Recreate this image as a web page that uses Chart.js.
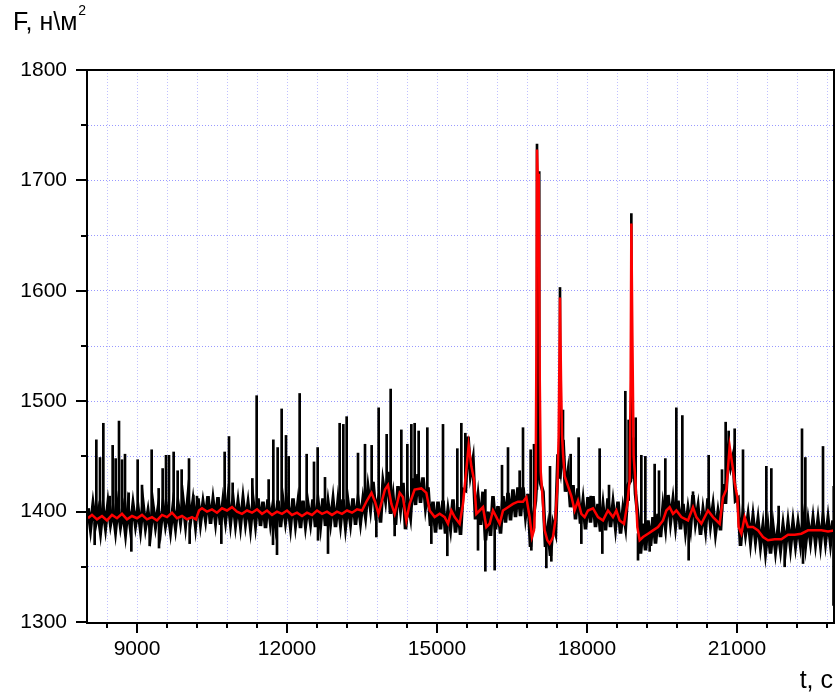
<!DOCTYPE html>
<html>
<head>
<meta charset="utf-8">
<script src="https://cdn.jsdelivr.net/npm/chart.js@4.4.1/dist/chart.umd.min.js"></script>
<style>
  html, body { margin: 0; padding: 0; background: #fff; }
</style>
</head>
<body>
<canvas id="chart" width="836" height="694"></canvas>
<script>
// axis titles and tick labels
const yTitle = 'F, н\\м';
const yTitleSup = '2';
const xTitle = 't, с';
const xTickLabels = [9000, 12000, 15000, 18000, 21000];
const yTickLabels = [1300, 1400, 1500, 1600, 1700, 1800];

// raw signal, sampled every 50 s from 8020 s
const rawStart = 8020;
const rawStep = 50;
const rawF = [
  1403, 1385, 1406, 1388, 1400, 1382, 1404, 1386, 1407, 1389,
  1402, 1383, 1405, 1387, 1401, 1381, 1404, 1385, 1406, 1388,
  1403, 1384, 1407, 1386, 1400, 1382, 1405, 1387, 1402, 1384,
  1406, 1388, 1401, 1383, 1404, 1386, 1407, 1391, 1410, 1389,
  1413, 1392, 1409, 1388, 1412, 1390, 1408, 1393, 1414, 1389,
  1410, 1391, 1413, 1388, 1409, 1392, 1412, 1390, 1411, 1389,
  // 11020
  1408, 1388, 1411, 1390, 1407, 1386, 1410, 1389, 1412, 1387,
  1409, 1385, 1411, 1390, 1406, 1388, 1410, 1386, 1409, 1391,
  1407, 1387, 1412, 1389, 1408, 1385, 1410, 1388, 1406, 1390,
  1411, 1386, 1409, 1388, 1412, 1387, 1408, 1390, 1410, 1386,
  1409, 1389, 1411, 1387, 1408, 1390, 1412, 1388, 1410, 1391,
  1411, 1396, 1421, 1403, 1427, 1401, 1410, 1390, 1426, 1411,
  // 14020
  1436, 1398, 1414, 1388, 1423, 1403, 1426, 1384, 1410, 1396,
  1430, 1406, 1434, 1408, 1431, 1405, 1422, 1387, 1409, 1381,
  1409, 1384, 1410, 1380, 1401, 1385, 1411, 1381, 1404, 1379,
  1420, 1419, 1468, 1434, 1447, 1393, 1413, 1388, 1418, 1374,
  1400, 1378, 1414, 1384, 1405, 1380, 1414, 1390, 1417, 1392,
  1420, 1395, 1422, 1396, 1422, 1397, 1416, 1368, 1393, 1410,
  // 17020
  1452, 1426, 1418, 1368, 1385, 1360, 1389, 1381, 1452, 1438,
  1465, 1418, 1435, 1404, 1424, 1393, 1421, 1389, 1409, 1384,
  1413, 1390, 1414, 1386, 1407, 1382, 1405, 1383, 1412, 1386,
  1407, 1386, 1409, 1380, 1402, 1387, 1424, 1428, 1467, 1416,
  1395, 1362, 1389, 1365, 1392, 1369, 1395, 1371, 1398, 1377,
  1404, 1386, 1415, 1391, 1410, 1388, 1410, 1384, 1407, 1383,
  // 20020
  1402, 1386, 1415, 1390, 1404, 1379, 1401, 1384, 1412, 1388,
  1405, 1381, 1399, 1383, 1425, 1407, 1452, 1440, 1450, 1410,
  1412, 1369, 1398, 1380, 1396, 1373, 1395, 1374, 1392, 1369,
  1387, 1364, 1385, 1362, 1386, 1365, 1384, 1366, 1387, 1367,
  1389, 1368, 1390, 1370, 1389, 1371, 1392, 1370, 1391, 1373,
  1393, 1372, 1392, 1371, 1394, 1373, 1393, 1372, 1392
];

// single-sample spikes of the raw signal: time, foot, tip
const spikeT = [
  8187, 8260, 8327, 8453, 8513, 8573, 8640, 8700, 8760, 8833, 9013, 9100, 9293, 9433, 9513, 9580, 9640, 9733, 9813, 9893,
  10040, 10127, 10200, 10753, 10840, 10913, 8153, 8887, 9253, 9440, 10053, 10687,
  11307, 11393, 11633, 11727, 11813, 11893, 11980, 12033, 12253, 12393, 12540, 12613, 12760, 13053, 13127, 13193, 13420, 13560,
  13693, 13833, 13993, 11720, 11800, 12820, 12620, 13787,
  14073, 14287, 14407, 14487, 14553, 14633, 14807, 15120, 15407, 15487, 15567, 15967, 16300, 16420, 16653, 16720, 16873, 16940,
  14153, 14887, 15207, 15967, 16153, 15820, 16887,
  17000, 17045, 17460, 18887,
  17260, 17520, 17673, 17833, 18073, 18253, 18440, 18767, 18833, 18973, 19087, 19167, 19353, 19440, 19567, 19787, 19907,
  17187, 17287, 17887, 18307, 19020, 19253,
  20120, 20433, 20700, 20773, 20833, 20953, 21120, 21587, 21687, 21833, 22300, 22367, 22720, 22935,
  20033, 21953, 22320, 22930
];
const spikeFrom = [
  1395, 1395, 1395, 1395, 1395, 1395, 1395, 1395, 1395, 1395, 1395, 1395, 1395, 1395, 1395, 1395, 1395, 1395, 1395, 1395,
  1395, 1395, 1395, 1401, 1401, 1401, 1390, 1390, 1390, 1390, 1390, 1395,
  1399, 1399, 1399, 1399, 1399, 1399, 1399, 1399, 1399, 1399, 1399, 1399, 1399, 1399, 1399, 1399, 1399, 1401,
  1415, 1400, 1420, 1395, 1395, 1395, 1395, 1400,
  1410, 1415, 1395, 1405, 1420, 1420, 1417, 1396, 1392, 1395, 1430, 1390, 1398, 1404, 1409, 1409, 1385, 1385,
  1398, 1398, 1390, 1387, 1395, 1398, 1380,
  1420, 1450, 1430, 1430,
  1372, 1450, 1414, 1408, 1402, 1395, 1400, 1395, 1410, 1425, 1376, 1378, 1383, 1387, 1395, 1400, 1396,
  1378, 1372, 1398, 1392, 1380, 1380,
  1404, 1401, 1400, 1419, 1440, 1430, 1390, 1375, 1375, 1376, 1381, 1381, 1383, 1383,
  1392, 1377, 1380, 1383
];
const spikeTo = [
  1465, 1449, 1480, 1414, 1460, 1448, 1482, 1447, 1452, 1417, 1447, 1424, 1456, 1421, 1439, 1451, 1451, 1454, 1437, 1438,
  1448, 1415, 1414, 1454, 1468, 1426, 1370, 1364, 1369, 1367, 1371, 1371,
  1430, 1505, 1429, 1465, 1458, 1493, 1469, 1450, 1507, 1452, 1445, 1458, 1431, 1480, 1479, 1486, 1453, 1461,
  1460, 1494, 1470, 1370, 1361, 1362, 1374, 1377,
  1511, 1474, 1461, 1479, 1480, 1473, 1476, 1479, 1457, 1480, 1471, 1420, 1442, 1458, 1437, 1476, 1456, 1461,
  1378, 1371, 1360, 1346, 1347, 1365, 1365,
  1733, 1708, 1603, 1670,
  1441, 1492, 1452, 1467, 1414, 1457, 1424, 1509, 1483, 1485, 1451, 1450, 1443, 1437, 1448, 1494, 1487,
  1349, 1355, 1371, 1362, 1356, 1364,
  1418, 1451, 1438, 1481, 1473, 1475, 1456, 1441, 1439, 1405, 1475, 1449, 1459, 1423,
  1356, 1350, 1353, 1315
];

// smoothed signal (red)
const smoothT = [
  8020, 8100, 8200, 8300, 8400, 8500, 8600, 8700, 8800, 8900, 9000, 9100, 9200, 9300, 9400, 9500, 9600, 9700, 9800, 9900,
  10000, 10100, 10180, 10240, 10300, 10400, 10500, 10600, 10700, 10800, 10900, 11000,
  11100, 11200, 11300, 11400, 11500, 11600, 11700, 11800, 11900, 12000, 12100, 12200, 12300, 12400, 12500, 12600, 12700, 12800,
  12900, 13000, 13100, 13200, 13300, 13400, 13500, 13600, 13690, 13760, 13830, 13900, 13960,
  14020, 14087, 14153, 14253, 14320, 14387, 14453, 14553, 14687, 14787, 14853, 14953, 15053, 15153, 15220, 15287, 15353, 15453,
  15520, 15587, 15633, 15687, 15740, 15787, 15853, 15920, 15987, 16053, 16120, 16187, 16253, 16320, 16420, 16520, 16620, 16720,
  16787, 16853, 16900, 16940, 16973, 16990, 17000, 17020, 17035, 17055, 17075,
  17120, 17153, 17207, 17253, 17320, 17367, 17407, 17433, 17460, 17480, 17500, 17520, 17553, 17620, 17687, 17753, 17820, 17887,
  17953, 18020, 18120, 18220, 18320, 18420, 18520, 18587, 18653, 18740, 18807, 18853, 18873, 18887, 18907, 18933, 18967, 19007,
  19053, 19120, 19220, 19320, 19420, 19520, 19587, 19653, 19720, 19787, 19887,
  20020, 20120, 20187, 20287, 20420, 20520, 20653, 20720, 20787, 20853, 20920, 20953, 21007, 21033, 21087, 21153, 21220, 21320,
  21420, 21520, 21620, 21753, 21887, 22020, 22153, 22287, 22420, 22553, 22687, 22820, 22940
];
const smoothF = [
  1394, 1397, 1393, 1396, 1392, 1397, 1394, 1398, 1393, 1396, 1394, 1397, 1393, 1395, 1392, 1397, 1395, 1399, 1394, 1396,
  1393, 1395, 1393, 1401, 1403, 1400, 1402, 1399, 1403, 1401, 1404, 1400,
  1398, 1401, 1399, 1402, 1398, 1401, 1397, 1400, 1398, 1401, 1397, 1399, 1396, 1399, 1397, 1401, 1398, 1400,
  1397, 1400, 1398, 1401, 1399, 1402, 1401, 1410, 1417, 1409, 1398, 1410, 1420,
  1424, 1407, 1398, 1417, 1413, 1392, 1407, 1420, 1421, 1417, 1401, 1395, 1398, 1395, 1389, 1401, 1395, 1389,
  1407, 1438, 1460, 1441, 1429, 1398, 1401, 1404, 1386, 1389, 1401, 1395, 1389, 1401, 1404, 1407, 1409, 1409,
  1413, 1395, 1377, 1383, 1423, 1560, 1728, 1695, 1706, 1520, 1436,
  1407, 1383, 1374, 1371, 1377, 1392, 1423, 1468, 1594, 1520, 1470, 1453, 1432, 1423, 1414, 1401, 1410, 1398,
  1395, 1401, 1403, 1395, 1392, 1401, 1395, 1401, 1392, 1389, 1407, 1429, 1520, 1661, 1560, 1450, 1429, 1386,
  1374, 1377, 1380, 1383, 1386, 1392, 1401, 1404, 1398, 1401, 1395,
  1392, 1404, 1395, 1389, 1401, 1395, 1389, 1413, 1420, 1459, 1438, 1426, 1413, 1386, 1380, 1395, 1386, 1386,
  1383, 1377, 1374, 1375, 1375, 1379, 1379, 1380, 1383, 1383, 1383, 1382, 1383
];

const FONT = 'Arial, "Liberation Sans", sans-serif';

const rawPoints = rawF.map((v, i) => ({ x: rawStart + i * rawStep, y: v }));
const spikePoints = spikeT.map((t, i) => ({ x: t, y: [spikeFrom[i], spikeTo[i]] }));
const smoothPoints = smoothT.map((t, i) => ({ x: t, y: smoothF[i] }));

const xGrid = [];
for (let v = 8400; v <= 22800; v += 600) xGrid.push(v);
const yGrid = [];
for (let v = 1300; v <= 1800; v += 50) yGrid.push(v);

const framePlugin = {
  id: 'frame',
  afterDraw(chart) {
    const { ctx, chartArea: a, scales: { x, y } } = chart;
    ctx.save();
    ctx.strokeStyle = '#000';
    ctx.lineWidth = 2;
    ctx.strokeRect(a.left - 1, a.top, a.right - a.left + 1, a.bottom - a.top + 1);
    ctx.beginPath();
    xGrid.forEach(v => {
      const px = Math.round(x.getPixelForValue(v));
      const len = xTickLabels.includes(v) ? 11 : 6;
      ctx.moveTo(px, a.bottom); ctx.lineTo(px, a.bottom + len);
    });
    yGrid.forEach(v => {
      const py = Math.round(y.getPixelForValue(v));
      const len = yTickLabels.includes(v) ? 11 : 6;
      ctx.moveTo(a.left - 1, py); ctx.lineTo(a.left - 1 - len, py);
    });
    ctx.stroke();

    ctx.fillStyle = '#000';
    ctx.textBaseline = 'alphabetic';
    ctx.textAlign = 'left';
    ctx.font = '25px ' + FONT;
    ctx.fillText(yTitle, 13, 30);
    const w = ctx.measureText(yTitle).width;
    ctx.font = '14px ' + FONT;
    ctx.fillText(yTitleSup, 13 + w + 1, 15);
    ctx.font = '25px ' + FONT;
    ctx.textAlign = 'right';
    ctx.fillText(xTitle, 833, 688);
    ctx.restore();
  }
};

new Chart(document.getElementById('chart'), {
  type: 'line',
  data: {
    datasets: [
      {
        label: 'smooth',
        data: smoothPoints,
        borderColor: '#ff0000',
        borderWidth: 2.5,
        pointRadius: 0,
        tension: 0,
        order: 0
      },
      {
        type: 'bar',
        label: 'spikes',
        data: spikePoints,
        backgroundColor: '#000',
        barThickness: 2,
        grouped: false,
        order: 1
      },
      {
        label: 'raw',
        data: rawPoints,
        borderColor: '#000',
        borderWidth: 3.6,
        pointRadius: 0,
        tension: 0,
        order: 2
      }
    ]
  },
  options: {
    responsive: false,
    animation: false,
    layout: { padding: { top: 70, right: 2, left: 0, bottom: 0 } },
    plugins: { legend: { display: false }, tooltip: { enabled: false } },
    scales: {
      x: {
        type: 'linear',
        offset: false,
        min: 8020,
        max: 22940,
        afterBuildTicks: s => { s.ticks = xGrid.map(v => ({ value: v })); },
        afterFit: s => { s.height = 72; s.paddingLeft = 0; s.paddingRight = 0; },
        grid: { offset: false, color: 'rgba(140,140,255,0.55)', lineWidth: 1, drawTicks: false },
        border: { display: false, dash: [1, 2] },
        ticks: {
          autoSkip: false,
          maxRotation: 0,
          padding: 15,
          color: '#000',
          font: { family: FONT, size: 21 },
          callback: v => xTickLabels.includes(v) ? String(v) : ''
        }
      },
      y: {
        type: 'linear',
        min: 1300,
        max: 1800,
        afterBuildTicks: s => { s.ticks = yGrid.map(v => ({ value: v })); },
        afterFit: s => { s.width = 88; s.paddingTop = 0; s.paddingBottom = 0; },
        grid: { color: 'rgba(110,110,255,0.7)', lineWidth: 1, drawTicks: false },
        border: { display: false, dash: [1, 2] },
        ticks: {
          autoSkip: false,
          padding: 21,
          color: '#000',
          font: { family: FONT, size: 21 },
          callback: v => yTickLabels.includes(v) ? String(v) : ''
        }
      }
    }
  },
  plugins: [framePlugin]
});
</script>
</body>
</html>
